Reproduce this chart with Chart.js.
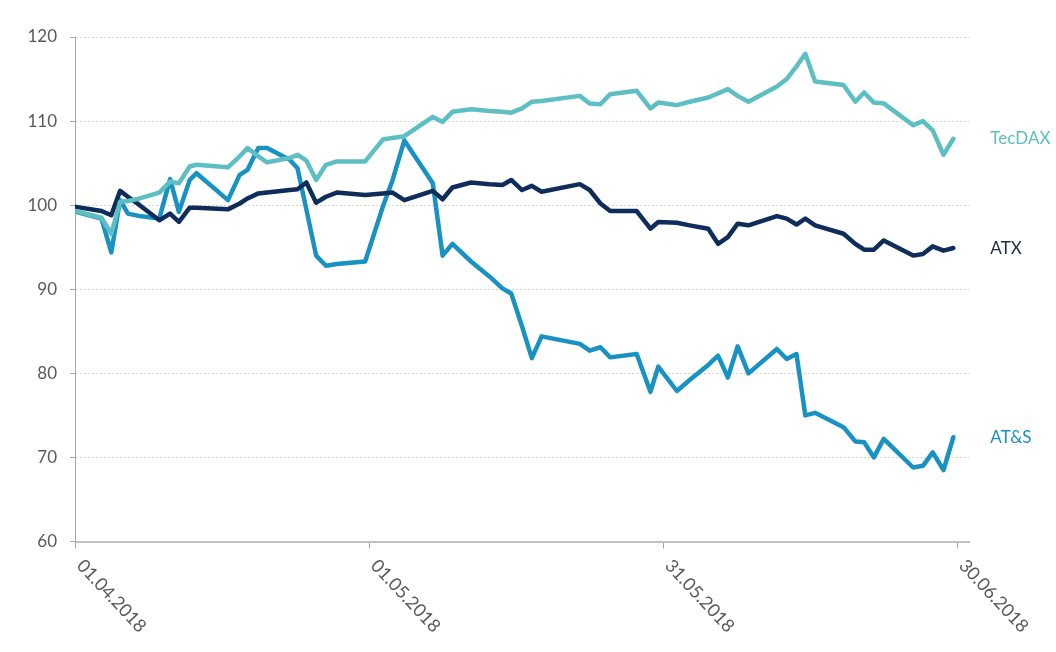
<!DOCTYPE html>
<html>
<head>
<meta charset="utf-8">
<script src="https://cdn.jsdelivr.net/npm/chart.js@4.4.0/dist/chart.umd.min.js"></script>
<style>
    html, body { margin: 0; padding: 0; background: #fff; }
</style>
</head>
<body>
<canvas id="myChart" width="1056" height="652"></canvas>
<script>
const tage = [0.1, 2.7, 3.7, 4.6, 5.4, 6.6, 8.6, 9.7, 10.6, 11.7, 12.4, 15.6, 16.8, 17.6, 18.7, 19.6,
    21.9, 22.7, 23.6, 24.6, 25.6, 26.7, 29.6, 31.4, 32.4, 33.6, 36.5, 37.5, 38.5, 40.4, 42.3, 43.6,
    44.5, 45.6, 46.6, 47.6, 51.5, 52.5, 53.6, 54.6, 57.3, 58.7, 59.5, 61.4, 62.7, 64.6, 65.6, 66.6,
    67.6, 68.7, 71.6, 72.6, 73.6, 74.5, 75.5, 78.4, 79.6, 80.5, 81.5, 82.5, 85.5, 86.5, 87.5, 88.6, 89.6];

const tecdax = [99.3, 98.5, 96.6, 100.4, 100.5, 100.8, 101.5, 102.8, 102.6, 104.6, 104.8, 104.5, 105.8, 106.8, 105.8, 105.1,
    105.6, 106.0, 105.3, 103.0, 104.8, 105.2, 105.2, 107.8, 108.0, 108.2, 110.5, 109.9, 111.1, 111.4, 111.2, 111.1,
    111.0, 111.5, 112.3, 112.4, 113.0, 112.1, 112.0, 113.2, 113.6, 111.5, 112.2, 111.9, 112.3, 112.8, 113.3, 113.8,
    113.0, 112.3, 114.1, 115.0, 116.5, 118.0, 114.7, 114.3, 112.3, 113.4, 112.2, 112.1, 109.5, 110.0, 108.9, 106.0, 107.9];

const atx = [99.8, 99.3, 98.8, 101.7, 101.0, 100.0, 98.2, 99.0, 98.0, 99.7, 99.7, 99.5, 100.2, 100.8, 101.4, 101.5,
    101.8, 101.9, 102.7, 100.3, 101.0, 101.5, 101.2, 101.4, 101.5, 100.6, 101.7, 100.7, 102.1, 102.7, 102.5, 102.4,
    103.0, 101.8, 102.3, 101.6, 102.5, 101.8, 100.2, 99.3, 99.3, 97.2, 98.0, 97.9, 97.6, 97.2, 95.4, 96.2,
    97.8, 97.6, 98.7, 98.4, 97.7, 98.4, 97.6, 96.6, 95.4, 94.7, 94.7, 95.8, 94.0, 94.2, 95.1, 94.6, 94.9];

const ats = [99.2, 98.4, 94.4, 100.6, 99.0, 98.7, 98.4, 103.1, 99.2, 103.0, 103.8, 100.6, 103.6, 104.2, 106.8, 106.8,
    105.4, 104.4, 99.5, 94.0, 92.8, 93.0, 93.3, 99.8, 103.0, 107.7, 102.6, 94.0, 95.4, 93.3, 91.5, 90.1,
    89.5, 85.6, 81.8, 84.4, 83.5, 82.7, 83.1, 81.9, 82.3, 77.8, 80.8, 77.9, 79.2, 81.0, 82.1, 79.5,
    83.2, 80.0, 82.9, 81.7, 82.3, 75.0, 75.3, 73.6, 71.9, 71.8, 70.0, 72.2, 68.8, 69.0, 70.6, 68.5, 72.4];

const tickTage = [0, 30, 60, 90];
const tickLabels = ['01.04.2018', '01.05.2018', '31.05.2018', '30.06.2018'];

const reihen = ['TecDAX', 'ATX', 'AT&S'];
const werte = [tecdax, atx, ats];
const farben = ['#5dbfc3', '#0f2d5a', '#1892c2'];
const textFarben = ['#5dbfc3', '#1b2a47', '#1892c2'];

const schrift = 'Lato, "Open Sans", sans-serif';

// Datumsbeschriftung schräg nach unten rechts + Namen am Linienende
const beschriftung = {
    id: 'beschriftung',
    afterDraw(chart) {
        const ctx = chart.ctx;
        const xs = chart.scales.x;
        ctx.save();
        ctx.fillStyle = '#595959';
        ctx.font = '18px ' + schrift;
        ctx.textAlign = 'left';
        ctx.textBaseline = 'middle';
        tickTage.forEach((t, i) => {
            const px = xs.getPixelForValue(t);
            ctx.save();
            ctx.translate(px + 5, xs.top + 21);
            ctx.rotate(Math.PI * 0.26);
            ctx.fillText(tickLabels[i], 0, 0);
            ctx.restore();
        });
        chart.data.datasets.forEach((ds, i) => {
            const meta = chart.getDatasetMeta(i);
            const last = meta.data[meta.data.length - 1];
            ctx.fillStyle = textFarben[i];
            ctx.font = '17px ' + schrift;
            ctx.fillText(reihen[i], last.x + 37, last.y);
        });
        ctx.restore();
    }
};

const ctx = document.getElementById('myChart').getContext('2d');
new Chart(ctx, {
    type: 'line',
    data: {
        datasets: reihen.map((name, i) => ({
            label: name,
            data: tage.map((t, j) => ({ x: t, y: werte[i][j] })),
            borderColor: farben[i],
            borderWidth: 4.5,
            pointRadius: 0,
            tension: 0,
            fill: false,
            borderJoinStyle: 'round',
            borderCapStyle: 'round'
        }))
    },
    options: {
        responsive: false,
        animation: false,
        layout: { padding: { top: 37, right: 87, left: 0, bottom: 0 } },
        plugins: {
            legend: { display: false },
            tooltip: { enabled: false }
        },
        scales: {
            x: {
                type: 'linear',
                min: 0,
                max: 91.2,
                afterBuildTicks: (scale) => { scale.ticks = tickTage.map(v => ({ value: v })); },
                afterFit: (scale) => { scale.height = 110.5; },
                ticks: { display: false },
                grid: {
                    drawOnChartArea: false,
                    drawTicks: true,
                    tickLength: 7,
                    tickColor: '#a6a6a6',
                    tickWidth: 1
                },
                border: { display: true, color: '#bfbfbf', width: 2 }
            },
            y: {
                min: 60,
                max: 120,
                afterFit: (scale) => { scale.width = 75; },
                ticks: {
                    stepSize: 10,
                    color: '#595959',
                    padding: 13,
                    font: { size: 17, family: schrift }
                },
                grid: {
                    color: '#d4d4d4',
                    lineWidth: 1,
                    borderDash: [2, 2],
                    tickLength: 5,
                    tickColor: '#a6a6a6',
                    tickBorderDash: []
                },
                border: { display: true, color: '#a6a6a6', width: 1, dash: [2, 2] }
            }
        }
    },
    plugins: [beschriftung]
});
</script>
</body>
</html>
